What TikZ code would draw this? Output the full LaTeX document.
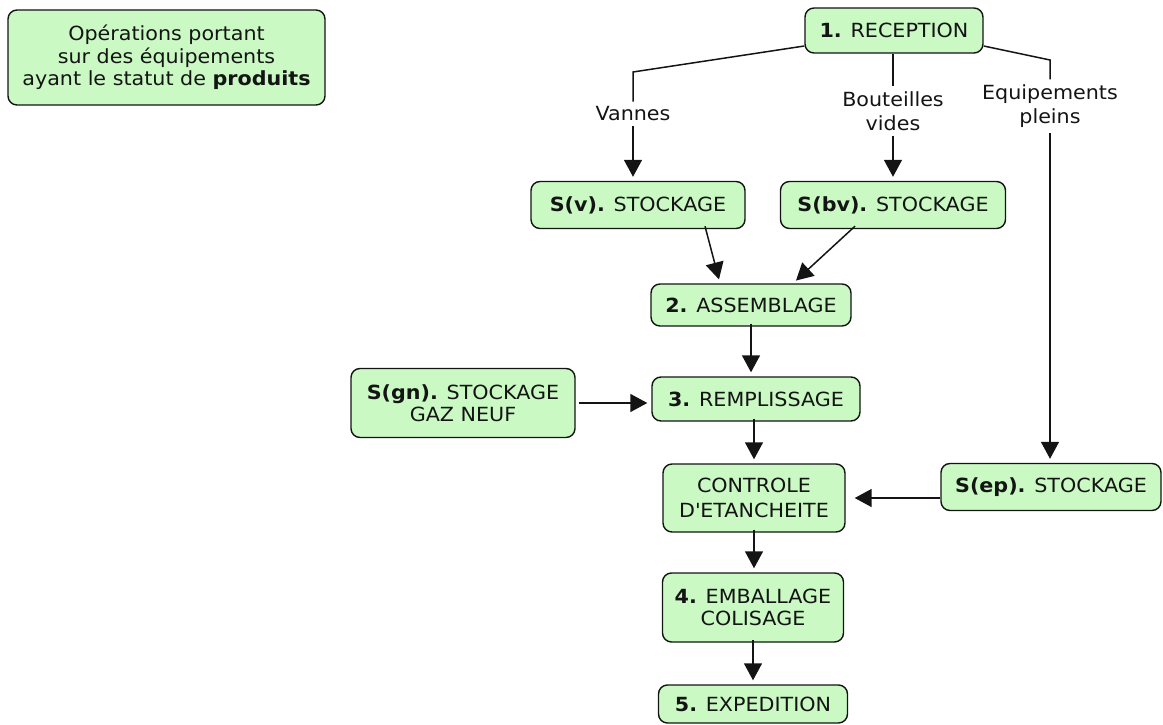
\documentclass[tikz,border=0pt]{standalone}
\usepackage{fontspec}
\setmainfont{DejaVu Sans}[FakeStretch=1.06]
\usetikzlibrary{arrows.meta}
\definecolor{boxfill}{RGB}{202,249,196}
\definecolor{ink}{RGB}{20,20,20}
\begin{document}
\begin{tikzpicture}[x=1pt,y=-1pt,
  box/.style={draw=ink,line width=1.4pt,rounded corners=9pt,fill=boxfill,align=center,
    inner sep=0pt,text=ink,font=\fontsize{19.5}{22.5}\selectfont},
  lbl/.style={align=center,inner sep=5pt,text=ink,font=\fontsize{19.5}{24}\selectfont},
  conn/.style={draw=ink,line width=1.5pt},
  arr/.style={conn,-{Triangle[width=18pt,length=17pt]},shorten >=4pt}
]
\useasboundingbox (0,0) rectangle (1163,725);
% nodes
\node[box,minimum width=317pt,minimum height=95pt] (legend) at (166.5,57.5)
  {Opérations portant\\sur des équipements\\ayant le statut de \textbf{produits}};
\node[box,minimum width=178pt,minimum height=45pt] (rec) at (894,30.5) {\textbf{1.} RECEPTION};
\node[box,minimum width=214pt,minimum height=47pt] (sv) at (638,205) {\textbf{S(v).} STOCKAGE};
\node[box,minimum width=225pt,minimum height=47pt] (sbv) at (893,205) {\textbf{S(bv).} STOCKAGE};
\node[box,minimum width=200pt,minimum height=42pt] (asm) at (751,305) {\textbf{2.} ASSEMBLAGE};
\node[box,minimum width=208pt,minimum height=44pt] (rem) at (756,399) {\textbf{3.} REMPLISSAGE};
\node[box,minimum width=224pt,minimum height=69pt] (sgn) at (463,403) {\textbf{S(gn).} STOCKAGE\\GAZ NEUF};
\node[box,minimum width=182pt,minimum height=68pt,font=\fontsize{19.5}{25}\selectfont] (ctl) at (754,498) {CONTROLE\\D\textquotesingle ETANCHEITE};
\node[box,minimum width=220pt,minimum height=47pt] (sep) at (1051,487) {\textbf{S(ep).} STOCKAGE};
\node[box,minimum width=181pt,minimum height=69pt] (emb) at (753,607.5) {\textbf{4.} EMBALLAGE\\COLISAGE};
\node[box,minimum width=189pt,minimum height=38pt] (exp) at (753,704) {\textbf{5.} EXPEDITION};
% labels
\node[lbl] (lv) at (633,114) {Vannes};
\node[lbl] (lbv) at (893,111) {Bouteilles\\vides};
\node[lbl] (leq) at (1050,106) {Equipements\\pleins};
\coordinate (cv) at (633,72);
\coordinate (ce) at (1050,60);
% connectors
\draw[conn] (rec.west |- 0,46) -- (cv) -- (lv.north);
\draw[arr] (lv.south) -- (lv.south |- sv.north);
\draw[conn] (rec.south -| lbv) -- (lbv.north);
\draw[arr] (lbv.south) -- (lbv.south |- sbv.north);
\draw[conn] (rec.east |- 0,46) -- (ce) -- (leq.north);
\draw[arr] (leq.south) -- (leq.south |- sep.north);
\draw[arr] ([xshift=67pt,yshift=3pt]sv.south) -- ([xshift=-31pt]asm.north);
\draw[arr] ([xshift=-38pt,yshift=3pt]sbv.south) -- ([xshift=42pt]asm.north);
\draw[arr] ([yshift=3pt]asm.south) -- (asm.south |- rem.north);
\draw[arr] ([xshift=3pt]sgn.east) -- (sgn.east -| rem.west);
\draw[arr] ([yshift=3pt]rem.south -| ctl) -- (ctl.north);
\draw[arr,shorten >=9pt] (sep.west |- ctl) -- (ctl.east);
\draw[arr] ([yshift=3pt]ctl.south) -- (ctl.south |- emb.north);
\draw[arr] ([yshift=3pt]emb.south) -- (emb.south |- exp.north);
\end{tikzpicture}
\end{document}
